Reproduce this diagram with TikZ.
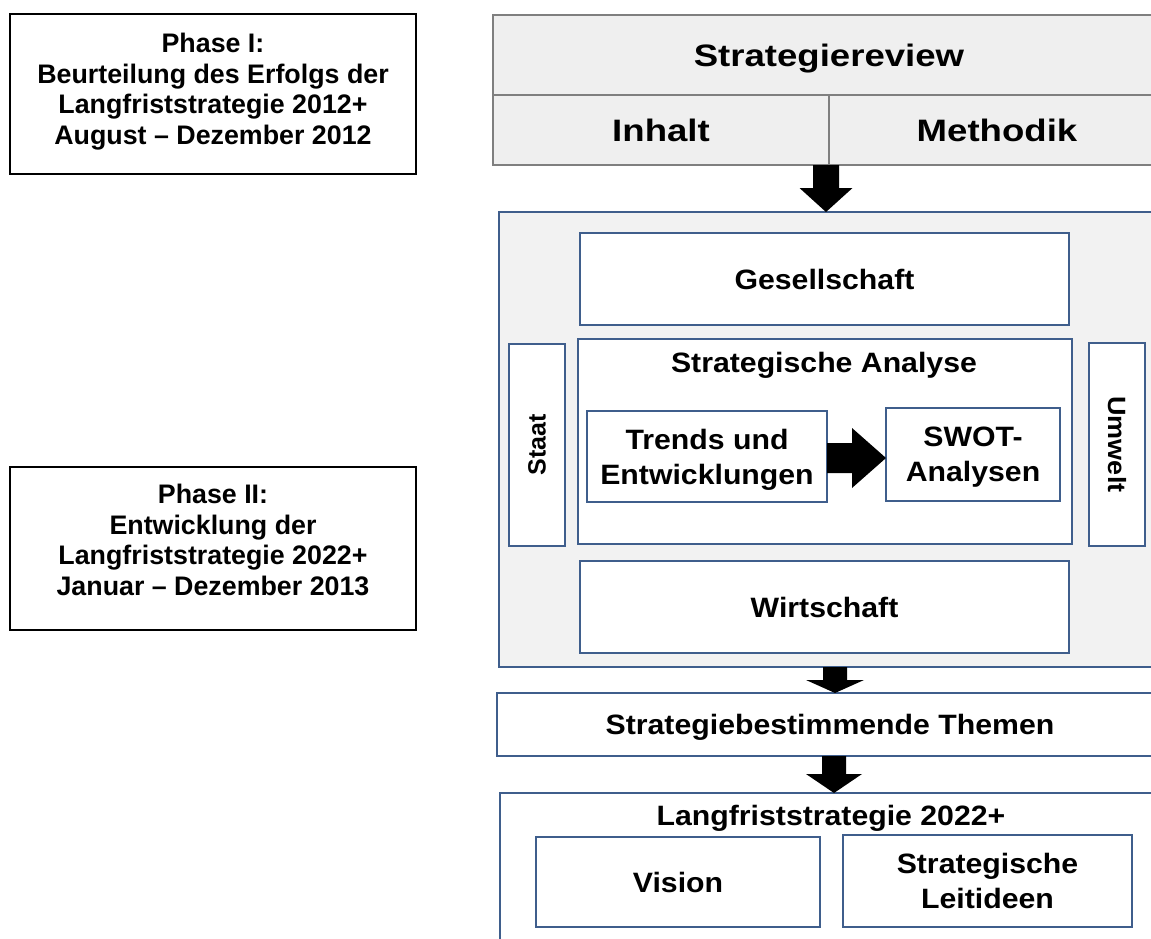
\documentclass[tikz,border=0pt]{standalone}
\usepackage{fontspec}
\setmainfont{Liberation Sans}
\newfontfamily\leftfont{Liberation Sans}
\newfontfamily\rfont[FakeStretch=1.08]{Liberation Sans}
\newfontfamily\hdfont[FakeStretch=1.18]{Liberation Sans}
\usetikzlibrary{calc}

\definecolor{frameblue}{HTML}{3F5E8C}
\definecolor{panelgray}{HTML}{F2F2F2}
\definecolor{headgray}{HTML}{EFEFEF}
\definecolor{headline}{HTML}{7F7F7F}

% block arrow pointing down: start, tip, shaft half width, head half width, head length
\newcommand\blkdown[5]{\fill[black] ($(#1)+(-#3,0)$) -- ($(#1)+(#3,0)$) -- ($(#2)+(#3,-#5)$) -- ($(#2)+(#4,-#5)$) -- (#2) -- ($(#2)+(-#4,-#5)$) -- ($(#2)+(-#3,-#5)$) -- cycle;}
% block arrow pointing right
\newcommand\blkright[5]{\fill[black] ($(#1)+(0,-#3)$) -- ($(#2)+(-#5,-#3)$) -- ($(#2)+(-#5,-#4)$) -- (#2) -- ($(#2)+(-#5,#4)$) -- ($(#2)+(-#5,#3)$) -- ($(#1)+(0,#3)$) -- cycle;}

\begin{document}
\begin{tikzpicture}[x=1pt,y=-1pt,
  box/.style={draw=frameblue, line width=2.5pt, fill=white, inner sep=0pt, outer sep=0pt},
  headbox/.style={draw=headline, line width=1.3pt, fill=headgray, inner sep=0pt, outer sep=0pt,
    text depth=0pt, font=\hdfont\bfseries\fontsize{31}{36}\selectfont},
  phasebox/.style={draw=black, line width=2pt, fill=white, inner sep=0pt, outer sep=0pt},
  ltext/.style={font=\leftfont\bfseries\fontsize{26.8}{30.5}\selectfont, align=center, inner sep=0pt, text depth=0pt},
  rtext/.style={font=\rfont\bfseries\fontsize{28}{35}\selectfont, align=center, inner sep=0pt, text depth=0pt},
  stext/.style={font=\leftfont\bfseries\fontsize{25}{30}\selectfont, inner sep=0pt}]
\useasboundingbox (0,0) rectangle (1151,939);
\clip (0,0) rectangle (1151,939);
\fill[white] (0,0) rectangle (1151,939);

% phase descriptions
\node[phasebox, minimum width=406pt, minimum height=160pt] (phase1) at (213,94) {};
\node[ltext] (phase1text) at (213,88.7) {Phase I:\\Beurteilung des Erfolgs der\\Langfriststrategie 2012+\\August – Dezember 2012};
\node[phasebox, minimum width=406pt, minimum height=163pt] (phase2) at (213,548.5) {};
\node[ltext] (phase2text) at (213,540) {Phase II:\\Entwicklung der\\Langfriststrategie 2022+\\Januar – Dezember 2013};

% strategy review header
\node[headbox, minimum width=672pt, minimum height=80pt] (review) at (829,55) {Strategiereview};
\node[headbox, minimum width=336pt, minimum height=70pt] (inhalt) at (661,130) {Inhalt};
\node[headbox, minimum width=336pt, minimum height=70pt] (methodik) at (997,130) {Methodik};

% analysis frame
\node[box, fill=panelgray, minimum width=666pt, minimum height=455pt] (frame) at (832,439.5) {};
\node[box, rtext, minimum width=489pt, minimum height=92pt] (gesell) at (824.5,279) {Gesellschaft};
\node[box, minimum width=494pt, minimum height=205pt] (analyse) at (825,441.5) {};
\node[rtext] (analysetitle) at (824,362) {Strategische Analyse};
\node[box, minimum width=56pt, minimum height=202pt] (staat) at (537,445) {};
\node[stext, rotate=90] (staattext) at (537,445) {Staat};
\node[box, minimum width=56pt, minimum height=203pt] (umwelt) at (1117,444.5) {};
\node[stext, rotate=-90, font=\rfont\bfseries\fontsize{25}{30}\selectfont] (umwelttext) at (1117,444.5) {Umwelt};
\node[box, rtext, minimum width=240pt, minimum height=91pt] (trends) at (707,456.5) {Trends und\\Entwicklungen};
\node[box, rtext, minimum width=174pt, minimum height=93pt] (swot) at (973,454.5) {SWOT-\\Analysen};
\node[box, rtext, minimum width=489pt, minimum height=92pt] (wirtschaft) at (824.5,607) {Wirtschaft};

% themes and long-term strategy
\node[box, rtext, minimum width=666pt, minimum height=63pt] (themen) at (830,724.5) {Strategiebestimmende Themen};
\node[box, minimum width=665pt, minimum height=157pt] (langfrist) at (832.5,871.5) {};
\node[rtext] (langfristtitle) at (831,815) {Langfriststrategie 2022+};
\node[box, rtext, minimum width=284pt, minimum height=90pt] (vision) at (678,882) {Vision};
\node[box, rtext, minimum width=289pt, minimum height=92pt] (leit) at (987.5,881) {Strategische\\Leitideen};

% block arrows
\coordinate (c1) at (826,0);
\coordinate (c2) at (835,0);
\coordinate (c3) at (834,0);
\coordinate (h1) at (0,458);
\blkdown{c1 |- inhalt.south}{c1 |- frame.north}{13}{26.5}{24}
\blkdown{c2 |- frame.south}{c2 |- themen.north}{12}{29}{13}
\blkdown{c3 |- themen.south}{c3 |- langfrist.north}{12}{28}{19}
\blkright{trends.east |- h1}{swot.west |- h1}{15}{30}{34}
\end{tikzpicture}
\end{document}
